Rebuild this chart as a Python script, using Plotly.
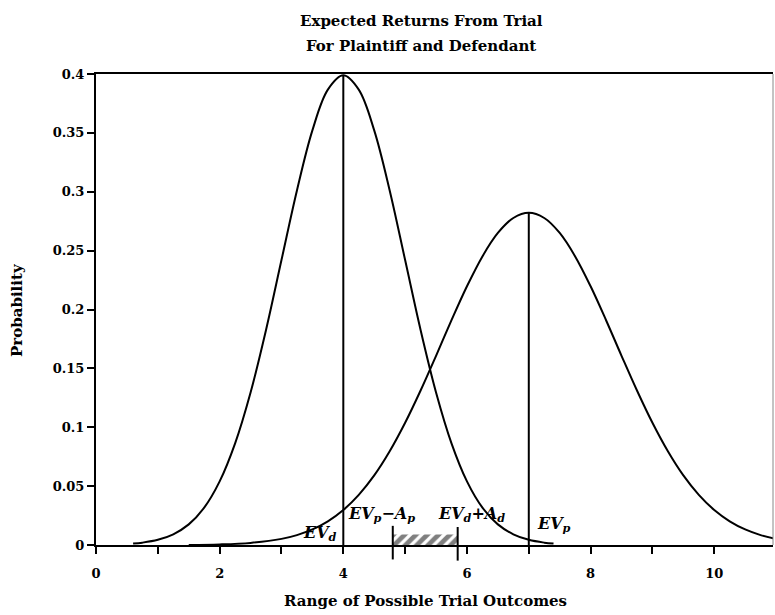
import plotly.graph_objects as go

# Defendant's distribution (left curve)
xd = [0.6, 0.75, 1.0, 1.25, 1.5, 1.75, 2.0, 2.25, 2.5, 2.75, 3.0, 3.25, 3.5, 3.75, 4.0,
      4.25, 4.5, 4.75, 5.0, 5.25, 5.5, 5.75, 6.0, 6.25, 6.5, 6.75, 7.0, 7.25, 7.4]
yd = [0.0012, 0.0020, 0.0044, 0.0091, 0.0175, 0.0317, 0.0540, 0.0863, 0.1295, 0.1826, 0.2420,
      0.3011, 0.3521, 0.3867, 0.3989, 0.3867, 0.3521, 0.3011, 0.2420, 0.1826, 0.1295, 0.0863,
      0.0540, 0.0317, 0.0175, 0.0091, 0.0044, 0.0020, 0.0012]

# Plaintiff's distribution (right curve)
xp = [1.5, 2.0, 2.5, 3.0, 3.25, 3.5, 3.75, 4.0, 4.25, 4.5, 4.75, 5.0, 5.25, 5.5, 5.75, 6.0,
      6.25, 6.5, 6.75, 7.0, 7.25, 7.5, 7.75, 8.0, 8.25, 8.5, 8.75, 9.0, 9.25, 9.5, 9.75,
      10.0, 10.25, 10.5, 10.75, 11.0]
yp = [0.0001, 0.0005, 0.0018, 0.0052, 0.0084, 0.0132, 0.0201, 0.0297, 0.0426, 0.0591, 0.0796,
      0.1038, 0.1312, 0.1607, 0.1909, 0.2197, 0.2451, 0.2650, 0.2777, 0.2821, 0.2777, 0.2650,
      0.2451, 0.2197, 0.1909, 0.1607, 0.1312, 0.1038, 0.0796, 0.0591, 0.0426, 0.0297, 0.0201,
      0.0132, 0.0084, 0.0052]

ev_d = 4.0
ev_p = 7.0
peak_d = 0.3989
peak_p = 0.2821
settle_lo = 4.8   # EVp - Ap
settle_hi = 5.85  # EVd + Ad
hatch_h = 0.009

x_tick_major = [0, 2, 4, 6, 8, 10]
x_tick_all = list(range(0, 12))
y_ticks = [0, 0.05, 0.1, 0.15, 0.2, 0.25, 0.3, 0.35, 0.4]
y_tick_text = ["0", "0.05", "0.1", "0.15", "0.2", "0.25", "0.3", "0.35", "0.4"]

FONT = "DejaVu Serif"
W, H = 775, 615
ML, MR, MT, MB = 96, 2, 74, 70
line = dict(color="black", width=2)

fig = go.Figure()
fig.add_trace(go.Scatter(x=xd, y=yd, mode="lines", line=dict(color="black", width=2, shape="spline"),
                         hoverinfo="skip"))
fig.add_trace(go.Scatter(x=xp, y=yp, mode="lines", line=dict(color="black", width=2, shape="spline"),
                         hoverinfo="skip"))
fig.add_trace(go.Scatter(x=[ev_d, ev_d], y=[0, peak_d], mode="lines", line=line, hoverinfo="skip"))
fig.add_trace(go.Scatter(x=[ev_p, ev_p], y=[0, peak_p], mode="lines", line=line, hoverinfo="skip"))
# hatched settlement range
fig.add_trace(go.Scatter(x=[settle_lo, settle_hi, settle_hi, settle_lo, settle_lo],
                         y=[0, 0, hatch_h, hatch_h, 0], mode="lines", fill="toself",
                         fillcolor="rgba(0,0,0,0)", line=dict(width=0),
                         fillpattern=dict(shape="/", fgcolor="black", bgcolor="white", size=8, solidity=0.6),
                         hoverinfo="skip"))
fig.add_trace(go.Scatter(x=[settle_lo, settle_hi], y=[0.002, 0.001], mode="markers", cliponaxis=False,
                         marker=dict(symbol="line-ns", size=24, line=dict(color="black", width=2)),
                         hoverinfo="skip"))

ann_font = dict(family=FONT, size=16, color="black", weight="bold", style="italic")
labels = [
    ("EV<sub>d</sub>", 3.93, 0.010, "right"),
    ("EV<sub>p</sub>−A<sub>p</sub>", 4.05, 0.026, "left"),
    ("EV<sub>d</sub>+A<sub>d</sub>", 5.5, 0.026, "left"),
    ("EV<sub>p</sub>", 7.1, 0.017, "left"),
]
for txt, x, y, anc in labels:
    fig.add_annotation(x=x, y=y, xref="x", yref="y", text=txt, showarrow=False,
                       xanchor=anc, yanchor="middle", font=ann_font)

plot_w = W - ML - MR
plot_h = H - MT - MB


def px_to_paper_x(px):
    return (px - ML) / plot_w


def px_to_paper_y(py):
    return (H - MB - py) / plot_h


title_font = dict(family=FONT, size=15, color="black", weight="bold")
texts = [
    ("Expected Returns From Trial", 421, 21, 0),
    ("For Plaintiff and Defendant", 421, 46, 0),
    ("Range of Possible Trial Outcomes", 425, 601, 0),
    ("Probability", 17, 310, -90),
]
for txt, px, py, ang in texts:
    fig.add_annotation(x=px_to_paper_x(px), y=px_to_paper_y(py), xref="paper", yref="paper",
                       text=txt, showarrow=False, textangle=ang, xanchor="center", yanchor="middle",
                       font=title_font)

# right border (thin grey)
fig.add_shape(type="line", xref="paper", yref="paper", x0=1, x1=1, y0=0, y1=1,
              line=dict(color="#888888", width=1))

fig.update_layout(
    width=W, height=H,
    margin=dict(l=ML, r=MR, t=MT, b=MB),
    paper_bgcolor="white", plot_bgcolor="white",
    showlegend=False,
)
tick_font = dict(family=FONT, size=13, color="black", weight="bold")
fig.update_xaxes(range=[0, 10.95], showgrid=False, zeroline=False, showline=True, linecolor="black",
                 linewidth=2, mirror=True, ticks="outside", ticklen=7, tickwidth=1.5, tickcolor="black",
                 tickvals=x_tick_all, ticktext=[str(v) if v in x_tick_major else "" for v in x_tick_all],
                 tickfont=tick_font, ticklabelstandoff=8)
fig.update_yaxes(range=[0, 0.4], showgrid=False, zeroline=False, showline=True, linecolor="black",
                 linewidth=2, ticks="outside", ticklen=7, tickwidth=1.5, tickcolor="black",
                 tickvals=y_ticks, ticktext=y_tick_text, tickfont=tick_font)

fig.write_html("out.html")
